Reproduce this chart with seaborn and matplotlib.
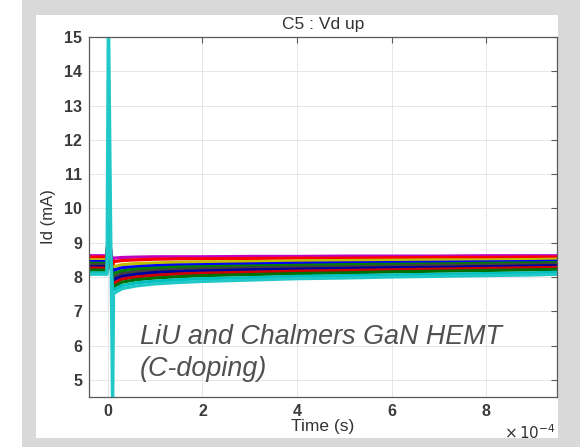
import matplotlib
matplotlib.use("Agg")
import matplotlib.pyplot as plt
import seaborn as sns
import pandas as pd
from matplotlib.patches import Rectangle

# ---- data (time in units of 1e-4 s, current in mA) ----
time_pts = [-0.4, -0.02, 0.01, 0.1, 0.12, 0.3, 0.6, 1.0, 1.5, 2.0, 3.0, 4.0, 5.0, 6.0, 7.0, 8.0, 9.0, 9.5]

series_names = ["s1", "s2", "s3", "s4", "s5", "s6", "s7", "s8", "s9", "s10", "s11"]
series_colors = ["#bf00bf", "#ff0000", "#bfbf00", "#0000ff", "#008000", "#404040",
                 "#0000a0", "#d00000", "#007000", "#00bfbf", "#20c8c8"]

s1 = [8.62, 8.62, 9.30, 8.40, 8.55, 8.57, 8.58, 8.59, 8.59, 8.59, 8.60, 8.60, 8.61, 8.61, 8.61, 8.62, 8.62, 8.62]
s2 = [8.58, 8.58, 9.40, 8.20, 8.45, 8.48, 8.50, 8.52, 8.53, 8.53, 8.54, 8.55, 8.55, 8.56, 8.57, 8.57, 8.58, 8.58]
s3 = [8.50, 8.50, 9.50, 8.00, 8.30, 8.36, 8.39, 8.41, 8.43, 8.44, 8.45, 8.47, 8.48, 8.49, 8.50, 8.50, 8.51, 8.52]
s4 = [8.45, 8.45, 9.60, 7.90, 8.20, 8.27, 8.30, 8.33, 8.35, 8.36, 8.38, 8.40, 8.41, 8.42, 8.43, 8.44, 8.45, 8.46]
s5 = [8.40, 8.40, 9.50, 7.80, 8.10, 8.18, 8.23, 8.26, 8.29, 8.30, 8.32, 8.34, 8.36, 8.37, 8.38, 8.40, 8.41, 8.42]
s6 = [8.36, 8.36, 9.40, 7.80, 8.00, 8.10, 8.15, 8.19, 8.22, 8.24, 8.27, 8.29, 8.30, 8.32, 8.34, 8.35, 8.37, 8.38]
s7 = [8.30, 8.30, 9.60, 7.70, 7.92, 8.02, 8.08, 8.13, 8.16, 8.18, 8.21, 8.23, 8.25, 8.27, 8.28, 8.30, 8.32, 8.33]
s8 = [8.26, 8.26, 9.30, 7.80, 7.82, 7.94, 8.00, 8.05, 8.09, 8.11, 8.14, 8.17, 8.19, 8.21, 8.23, 8.25, 8.27, 8.28]
s9 = [8.20, 8.20, 9.40, 7.75, 7.72, 7.85, 7.92, 7.97, 8.01, 8.04, 8.07, 8.10, 8.12, 8.15, 8.17, 8.19, 8.21, 8.22]
s10 = [8.12, 8.12, 9.70, 7.70, 7.62, 7.75, 7.83, 7.88, 7.92, 7.95, 7.98, 8.02, 8.04, 8.06, 8.08, 8.10, 8.12, 8.14]
s11 = [8.08, 8.08, 16.0, 4.00, 7.52, 7.66, 7.74, 7.80, 7.84, 7.87, 7.91, 7.95, 7.97, 8.00, 8.02, 8.04, 8.06, 8.08]

series_values = [s1, s2, s3, s4, s5, s6, s7, s8, s9, s10, s11]

x_ticks = [0, 2, 4, 6, 8]
y_ticks = [5, 6, 7, 8, 9, 10, 11, 12, 13, 14, 15]

rows = []
for name, vals in zip(series_names, series_values):
    for i, (t, v) in enumerate(zip(time_pts, vals)):
        rows.append({"series": name, "order": i, "time": t, "Id": v})
df = pd.DataFrame(rows)

sns.set_theme(style="white")
plt.rcParams["font.family"] = ["Liberation Sans", "DejaVu Sans"]

fig = plt.figure(figsize=(5.8, 4.47), dpi=100)
fig.patch.set_facecolor("white")
fig.patches.append(Rectangle((22 / 580, 0), 1 - 22 / 580, 1, transform=fig.transFigure,
                             facecolor="#d9d9d9", edgecolor="none", zorder=-10))
fig.patches.append(Rectangle((36 / 580, 1 - 438 / 447), (558 - 36) / 580, (438 - 15) / 447,
                             transform=fig.transFigure, facecolor="white", edgecolor="none", zorder=-9))

ax = fig.add_axes([89 / 580, 1 - 397 / 447, (557 - 89) / 580, (397 - 37) / 447])
ax.set_facecolor("white")

palette = dict(zip(series_names, series_colors))
sns.lineplot(data=df, x="time", y="Id", hue="series", units="series", estimator=None,
             sort=False, palette=palette, linewidth=2.3, legend=False, ax=ax)
for line in ax.lines:
    line.set_solid_joinstyle("round")

ax.set_xlim(-0.4, 9.5)
ax.set_ylim(4.5, 15)
ax.set_xticks(x_ticks)
ax.set_yticks(y_ticks)
ax.grid(True, color="#e6e6e6", linewidth=0.7)
ax.set_axisbelow(True)
for sp in ax.spines.values():
    sp.set_color("#5a5a5a")
    sp.set_linewidth(0.9)
ax.tick_params(direction="in", length=4, width=0.8, color="#5a5a5a",
               top=True, right=True, labelsize=11.5, labelcolor="#3a3a3a", pad=5)
for lab in ax.get_xticklabels() + ax.get_yticklabels():
    lab.set_fontweight("bold")

ax.set_title("C5 : Vd up", fontsize=12.5, color="#333333", pad=6)
ax.set_xlabel("Time (s)", fontsize=12.5, color="#333333", labelpad=0)
ax.set_ylabel("Id (mA)", fontsize=12, color="#333333", labelpad=6)

fig.text(530 / 580, 1 - 433 / 447, r"$\times\,10^{-4}$", fontsize=11, color="#333333",
         ha="center", va="center")

fig.text(140 / 580, 1 - 353 / 447, "LiU and Chalmers GaN HEMT\n(C-doping)",
         fontsize=19.4, style="italic", color="#505050", ha="left", va="center",
         linespacing=1.25)

fig.savefig("out.png", dpi=100, facecolor="white")
